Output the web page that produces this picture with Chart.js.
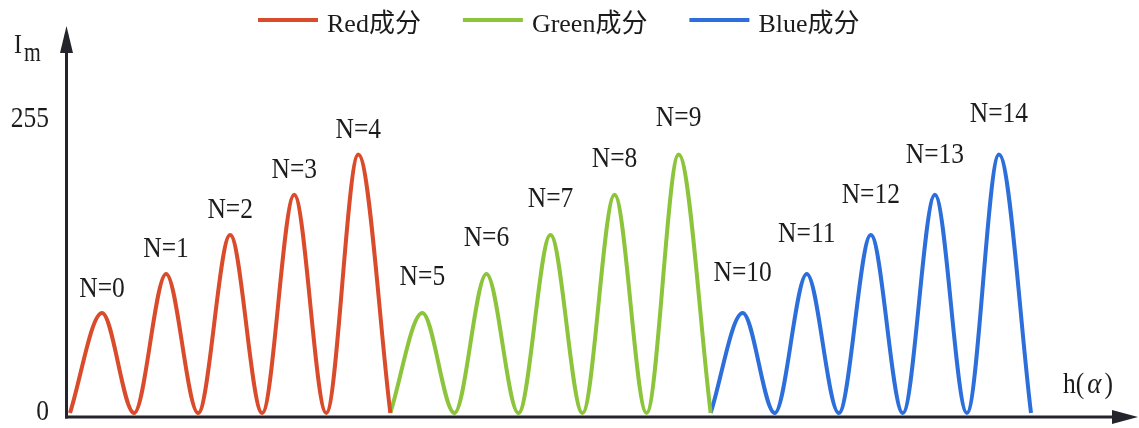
<!DOCTYPE html>
<html>
<head>
<meta charset="utf-8">
<title>Im – h(α)</title>
<script src="https://cdn.jsdelivr.net/npm/chart.js@4/dist/chart.umd.min.js"></script>
<style>
  html, body { margin: 0; padding: 0; background: #ffffff; }
  #wrap { width: 1139px; height: 428px; }
</style>
</head>
<body>
<div id="wrap"><canvas id="c" width="1139" height="428"></canvas></div>
<script>
// Series names and colours
const seriesNames = ['Red成分', 'Green成分', 'Blue成分'];
const seriesColors = ['#d94b2b', '#8cc43c', '#2d6fda'];

// Peak intensity of each order, per colour channel (0–255)
const redPeaks = [87, 121, 155, 190, 225];
const greenPeaks = [87, 121, 155, 190, 225];
const bluePeaks = [87, 121, 155, 190, 225];

// Order labels above the peaks
const orderLabels = ['N=0', 'N=1', 'N=2', 'N=3', 'N=4',
                     'N=5', 'N=6', 'N=7', 'N=8', 'N=9',
                     'N=10', 'N=11', 'N=12', 'N=13', 'N=14'];

// Value-axis tick labels
const yTicks = [0, 255];
const yAxisTitle = 'I';
const yAxisSub = 'm';
const xAxisTitle = ['h(', 'α', ')'];

// Each order is one hump: it rises from 0 to its peak and falls back to 0
function humpPoints(peaks, firstOrder) {
  const pts = [];
  peaks.forEach((p, i) => {
    const x0 = firstOrder + i;
    pts.push({ x: x0, y: 0 });
    pts.push({ x: x0 + 0.5, y: p });
  });
  pts.push({ x: firstOrder + peaks.length, y: 0 });
  return pts;
}

const allPeaks = [redPeaks, greenPeaks, bluePeaks];
let orderStart = 0;
const datasets = allPeaks.map((peaks, s) => {
  const ds = {
    label: seriesNames[s],
    data: humpPoints(peaks, orderStart),
    borderColor: seriesColors[s],
    backgroundColor: seriesColors[s],
    borderWidth: 4,
    pointRadius: 0,
    fill: false,
    cubicInterpolationMode: 'monotone',
    clip: false,
    orderOffset: orderStart
  };
  orderStart += peaks.length;
  return ds;
});

const SERIF = '"Liberation Serif", "Times New Roman", "Noto Sans CJK SC", serif';
const LEGEND_FONT = '26px "Liberation Serif", "Noto Sans CJK SC", serif';
const TEXT_COLOR = '#1c1c1c';
const AXIS_COLOR = '#24242c';

function squeezedText(ctx, text, x, y, align, font, sx) {
  ctx.save();
  ctx.font = font;
  ctx.textAlign = align;
  ctx.textBaseline = 'alphabetic';
  ctx.translate(x, y);
  ctx.scale(sx, 1);
  ctx.fillText(text, 0, 0);
  ctx.restore();
}

// Arrowed axes, drawn beneath the curves
const axesPlugin = {
  id: 'arrowAxes',
  beforeDatasetsDraw(chart) {
    const { ctx, chartArea } = chart;
    const yAxisX = chartArea.left - 3.5;
    const xAxisY = chartArea.bottom + 4;
    ctx.save();
    ctx.strokeStyle = AXIS_COLOR;
    ctx.fillStyle = AXIS_COLOR;
    ctx.lineWidth = 3;
    // vertical axis
    ctx.beginPath();
    ctx.moveTo(yAxisX, xAxisY + 1.5);
    ctx.lineTo(yAxisX, 48);
    ctx.stroke();
    ctx.beginPath();
    ctx.moveTo(yAxisX, 26);
    ctx.lineTo(yAxisX - 6.5, 53);
    ctx.lineTo(yAxisX + 6.5, 53);
    ctx.closePath();
    ctx.fill();
    // horizontal axis
    ctx.beginPath();
    ctx.moveTo(yAxisX - 1.5, xAxisY);
    ctx.lineTo(1118, xAxisY);
    ctx.stroke();
    ctx.beginPath();
    ctx.moveTo(1138, xAxisY);
    ctx.lineTo(1112, xAxisY - 7);
    ctx.lineTo(1112, xAxisY + 7);
    ctx.closePath();
    ctx.fill();
    ctx.restore();
  }
};

// Tick labels, axis titles, order labels and legend
const labelsPlugin = {
  id: 'chartTexts',
  afterDraw(chart) {
    const { ctx } = chart;
    const xs = chart.scales.x, ys = chart.scales.y;
    ctx.save();
    ctx.fillStyle = TEXT_COLOR;

    // y ticks
    yTicks.forEach(v => {
      squeezedText(ctx, String(v), 49, ys.getPixelForValue(v) + 7, 'right', '30px ' + SERIF, 0.85);
    });

    // axis titles
    squeezedText(ctx, yAxisTitle, 14, 53, 'left', '28px ' + SERIF, 0.85);
    squeezedText(ctx, yAxisSub, 24, 61, 'left', '27px ' + SERIF, 0.8);
    let hx = 1063;
    ctx.font = '30px ' + SERIF;
    squeezedText(ctx, xAxisTitle[0], hx, 393, 'left', '30px ' + SERIF, 0.85);
    hx += ctx.measureText(xAxisTitle[0]).width * 0.85 + 3;
    ctx.font = 'italic 30px ' + SERIF;
    squeezedText(ctx, xAxisTitle[1], hx, 393, 'left', 'italic 30px ' + SERIF, 0.9);
    hx += ctx.measureText(xAxisTitle[1]).width * 0.9 + 3;
    squeezedText(ctx, xAxisTitle[2], hx, 393, 'left', '30px ' + SERIF, 0.85);

    // order labels above each peak
    const lift = [16.5, 28, 32];
    chart.data.datasets.forEach((ds, s) => {
      ds.data.forEach(pt => {
        if (pt.y === 0) return;
        const order = Math.floor(pt.x);
        const px = xs.getPixelForValue(pt.x);
        const py = ys.getPixelForValue(pt.y);
        squeezedText(ctx, orderLabels[order], px, py - lift[s], 'center', '30px ' + SERIF, 0.85);
      });
    });

    // legend
    let lx = 258;
    ctx.font = LEGEND_FONT;
    chart.data.datasets.forEach(ds => {
      ctx.fillStyle = ds.borderColor;
      ctx.fillRect(lx, 18, 60, 4);
      ctx.fillStyle = TEXT_COLOR;
      ctx.textAlign = 'left';
      ctx.textBaseline = 'alphabetic';
      ctx.fillText(ds.label, lx + 69, 32);
      lx += 69 + ctx.measureText(ds.label).width + 42;
    });
    ctx.restore();
  }
};

new Chart(document.getElementById('c'), {
  type: 'line',
  data: { datasets },
  options: {
    responsive: false,
    animation: false,
    layout: { padding: { left: 70, right: 108, top: 120, bottom: 15 } },
    scales: {
      x: { type: 'linear', min: 0, max: orderLabels.length, display: false },
      y: { type: 'linear', min: 0, max: 255, display: false }
    },
    plugins: {
      legend: { display: false },
      tooltip: { enabled: false }
    }
  },
  plugins: [axesPlugin, labelsPlugin]
});
</script>
</body>
</html>
